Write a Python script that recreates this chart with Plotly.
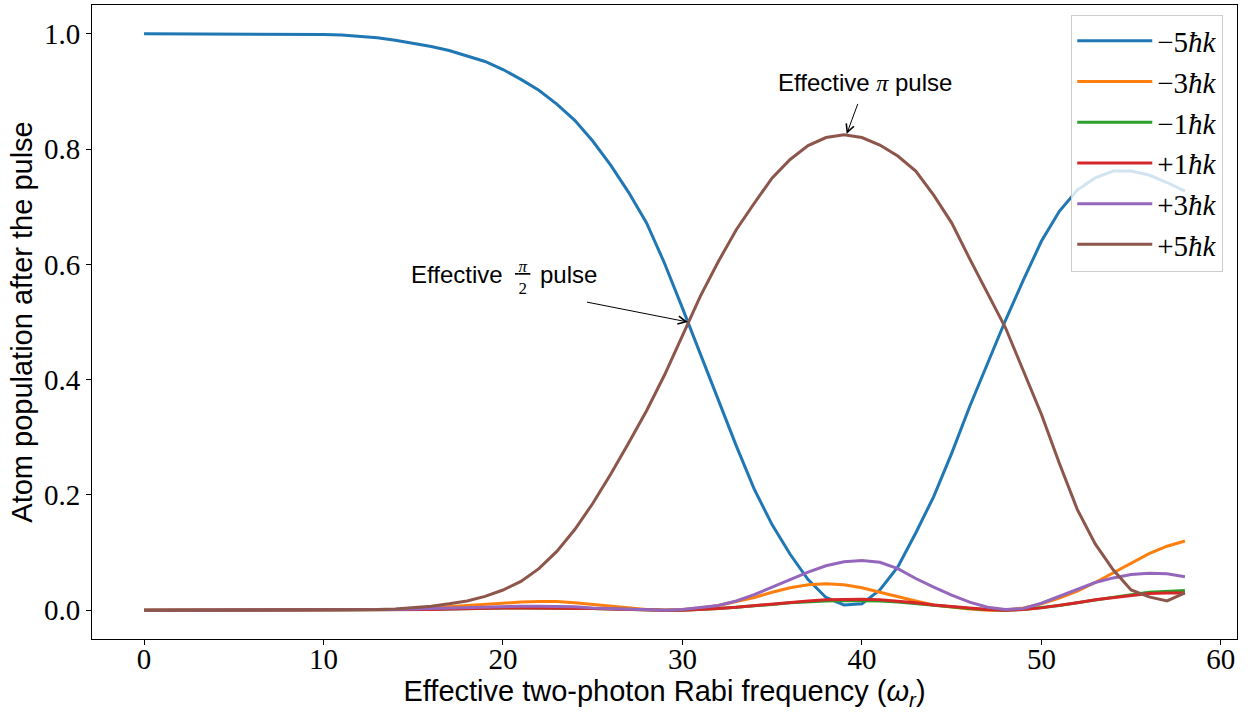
import plotly.graph_objects as go

rabi = list(range(0, 59))

pop_m5 = [1.0, 1.0, 1.0, 1.0, 1.0, 1.0, 1.0, 1.0, 1.0, 1.0,
          0.999, 0.998, 0.996, 0.993, 0.989, 0.984, 0.978, 0.971, 0.962, 0.952,
          0.938, 0.921, 0.902, 0.878, 0.850, 0.814, 0.772, 0.725, 0.672, 0.602,
          0.524, 0.445, 0.365, 0.285, 0.210, 0.148, 0.097, 0.053, 0.022, 0.009,
          0.011, 0.035, 0.075, 0.134, 0.197, 0.272, 0.353, 0.428, 0.503, 0.573,
          0.640, 0.692, 0.729, 0.750, 0.762, 0.762, 0.755, 0.742, 0.727]

pop_m3 = [0.0, 0.0, 0.0, 0.0, 0.0, 0.0, 0.0, 0.0, 0.0, 0.0,
          0.0, 0.0, 0.0, 0.0, 0.001, 0.002, 0.004, 0.006, 0.008, 0.011,
          0.013, 0.014, 0.015, 0.015, 0.013, 0.010, 0.007, 0.004, 0.001, 0.0,
          0.001, 0.004, 0.008, 0.015, 0.022, 0.031, 0.039, 0.044, 0.046, 0.044,
          0.039, 0.031, 0.023, 0.016, 0.009, 0.005, 0.002, 0.0, 0.0, 0.004,
          0.011, 0.021, 0.033, 0.048, 0.065, 0.082, 0.098, 0.111, 0.120]

pop_m1 = [0.0, 0.0, 0.0, 0.0, 0.0, 0.0, 0.0, 0.0, 0.0, 0.0,
          0.0, 0.0, 0.0, 0.0, 0.0, 0.001, 0.001, 0.002, 0.003, 0.003,
          0.004, 0.004, 0.004, 0.004, 0.004, 0.003, 0.002, 0.001, 0.0, 0.0,
          0.0, 0.001, 0.003, 0.005, 0.007, 0.010, 0.013, 0.015, 0.016, 0.017,
          0.017, 0.016, 0.014, 0.011, 0.008, 0.005, 0.003, 0.001, 0.0, 0.001,
          0.004, 0.008, 0.013, 0.018, 0.023, 0.027, 0.031, 0.033, 0.034]

pop_p1 = [0.0, 0.0, 0.0, 0.0, 0.0, 0.0, 0.0, 0.0, 0.0, 0.0,
          0.0, 0.0, 0.0, 0.0, 0.0, 0.001, 0.001, 0.002, 0.003, 0.003,
          0.004, 0.004, 0.004, 0.004, 0.004, 0.003, 0.002, 0.001, 0.0, 0.0,
          0.0, 0.001, 0.003, 0.005, 0.008, 0.011, 0.014, 0.016, 0.018, 0.019,
          0.019, 0.018, 0.016, 0.013, 0.009, 0.006, 0.003, 0.001, 0.0, 0.001,
          0.004, 0.008, 0.013, 0.018, 0.022, 0.026, 0.029, 0.030, 0.030]

pop_p3 = [0.0, 0.0, 0.0, 0.0, 0.0, 0.0, 0.0, 0.0, 0.0, 0.0,
          0.0, 0.0, 0.0, 0.001, 0.001, 0.002, 0.003, 0.004, 0.005, 0.006,
          0.007, 0.007, 0.007, 0.007, 0.006, 0.004, 0.003, 0.001, 0.0, 0.0,
          0.001, 0.004, 0.008, 0.016, 0.027, 0.040, 0.053, 0.066, 0.077, 0.084,
          0.086, 0.083, 0.072, 0.055, 0.040, 0.026, 0.014, 0.005, 0.001, 0.003,
          0.012, 0.024, 0.036, 0.048, 0.056, 0.062, 0.064, 0.063, 0.058]

pop_p5 = [0.0, 0.0, 0.0, 0.0, 0.0, 0.0, 0.0, 0.0, 0.0, 0.0,
          0.0, 0.0, 0.0, 0.001, 0.002, 0.004, 0.007, 0.011, 0.016, 0.024,
          0.035, 0.050, 0.072, 0.102, 0.140, 0.185, 0.236, 0.290, 0.346, 0.408,
          0.477, 0.545, 0.605, 0.660, 0.706, 0.750, 0.782, 0.806, 0.820, 0.825,
          0.820, 0.807, 0.788, 0.762, 0.720, 0.672, 0.610, 0.550, 0.490, 0.415,
          0.340, 0.255, 0.175, 0.115, 0.070, 0.035, 0.023, 0.016, 0.030]

series_names = ["\u22125<i>\u0127k</i>", "\u22123<i>\u0127k</i>", "\u22121<i>\u0127k</i>",
                "+1<i>\u0127k</i>", "+3<i>\u0127k</i>", "+5<i>\u0127k</i>"]
series_values = [pop_m5, pop_m3, pop_m1, pop_p1, pop_p3, pop_p5]
colors = ["#1f77b4", "#ff7f0e", "#2ca02c", "#d62728", "#9467bd", "#8c564b"]

fig = go.Figure()
for name, vals, col in zip(series_names, series_values, colors):
    fig.add_trace(go.Scatter(x=rabi, y=vals, mode="lines", name=name,
                             line=dict(color=col, width=3)))

sans = "Liberation Sans, Arial, sans-serif"
serif = "Liberation Serif, DejaVu Serif, serif"

fig.update_layout(
    width=1248, height=713,
    margin=dict(l=92, r=11, t=5, b=74),
    paper_bgcolor="white", plot_bgcolor="white",
    showlegend=True,
    legend=dict(x=0.988, y=0.985, xanchor="right", yanchor="top",
                bgcolor="rgba(255,255,255,0.8)", bordercolor="#cccccc", borderwidth=1,
                font=dict(family=serif, size=29, color="black"),
                tracegroupgap=0, itemwidth=75),
    xaxis=dict(range=[-2.9, 60.9], tickvals=[0, 10, 20, 30, 40, 50, 60],
               ticks="outside", ticklen=5, tickwidth=1, tickcolor="black",
               showline=True, linecolor="black", linewidth=1, mirror=True,
               showgrid=False, zeroline=False, automargin=False,
               ticklabelstandoff=-11,
               tickfont=dict(family=serif, size=29, color="black"),
               title=dict(text="Effective two-photon Rabi frequency (<i>\u03c9<sub>r</sub></i>)",
                          font=dict(family=sans, size=29, color="black"), standoff=2)),
    yaxis=dict(range=[-0.05, 1.05], tickvals=[0, 0.2, 0.4, 0.6, 0.8, 1.0], tickformat=".1f",
               ticks="outside", ticklen=5, tickwidth=1, tickcolor="black",
               showline=True, linecolor="black", linewidth=1, mirror=True,
               showgrid=False, zeroline=False, automargin=False,
               tickfont=dict(family=serif, size=29, color="black"),
               title=dict(text="Atom population after the pulse",
                          font=dict(family=sans, size=29, color="black"), standoff=2)),
)

# pi/2 annotation: text pieces + stacked fraction + arrow
fig.add_annotation(x=20.1, y=0.583, xref="x", yref="y", text="Effective",
                   showarrow=False, xanchor="right", yanchor="middle",
                   font=dict(family=sans, size=24, color="black"))
fig.add_annotation(x=21.1, y=0.578, xref="x", yref="y",
                   text="<u>\u2009<i>\u03c0</i>\u2009</u><br>2",
                   showarrow=False, xanchor="center", yanchor="middle",
                   font=dict(family=serif, size=17, color="black"))
fig.add_annotation(x=21.95, y=0.583, xref="x", yref="y", text="pulse",
                   showarrow=False, xanchor="left", yanchor="middle",
                   font=dict(family=sans, size=24, color="black"))
fig.add_annotation(x=30.3, y=0.5, ax=24.6, ay=0.535, xref="x", yref="y", axref="x", ayref="y",
                   text="", showarrow=True, arrowhead=5, arrowsize=1.6, arrowwidth=1, arrowcolor="black")

# pi annotation
fig.add_annotation(x=35.2, y=0.915, xref="x", yref="y",
                   text="Effective <span style='font-family:Liberation Serif'><i>\u03c0</i></span> pulse",
                   showarrow=False, xanchor="left", yanchor="middle",
                   font=dict(family=sans, size=24, color="black"))
fig.add_annotation(x=39.15, y=0.826, ax=39.8, ay=0.881, xref="x", yref="y", axref="x", ayref="y",
                   text="", showarrow=True, arrowhead=5, arrowsize=1.6, arrowwidth=1, arrowcolor="black")

fig.write_html("out.html")
